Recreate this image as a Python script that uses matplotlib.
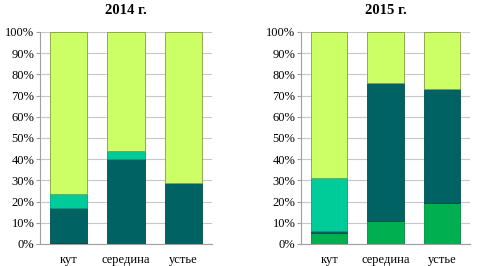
import numpy as np
import matplotlib.pyplot as plt

plt.rcParams['font.family'] = ['Liberation Serif', 'DejaVu Serif']

sites = ['кут', 'середина', 'устье']
years = ['2014 г.', '2015 г.']

# shares (%) per series, stacked bottom -> top
green_2014 = [0.5, 0, 0]
teal_2014 = [16.5, 40, 28.7]
aqua_2014 = [6.5, 4, 0.3]
lime_2014 = [76.5, 56, 71]

green_2015 = [5, 11, 19.5]
teal_2015 = [1, 65, 53.5]
aqua_2015 = [25, 0, 0]
lime_2015 = [69, 24, 27]

colors = ['#00b050', '#006262', '#00cc99', '#ccff66']
edges = ['#008a3e', '#004d4d', '#00a07a', '#8a9a40']

fig = plt.figure(figsize=(4.78, 2.66), dpi=100)
ax1 = fig.add_axes([40/478, 22/266, 172/478, 212/266])
ax2 = fig.add_axes([301/478, 22/266, 169/478, 212/266])

data = [[green_2014, teal_2014, aqua_2014, lime_2014],
        [green_2015, teal_2015, aqua_2015, lime_2015]]

for ax, series, title in zip([ax1, ax2], data, years):
    x = np.arange(len(sites))
    bottom = np.zeros(len(sites))
    for vals, c, ec in zip(series, colors, edges):
        vals = np.array(vals, dtype=float)
        ax.bar(x, vals, 0.65, bottom=bottom, color=c, edgecolor=ec,
               linewidth=0.6, zorder=3)
        bottom += vals
    ax.set_xlim(-0.5, 2.5)
    ax.set_ylim(0, 100)
    ax.set_yticks(range(0, 101, 10))
    ax.set_yticklabels([f'{v}%' for v in range(0, 101, 10)], fontsize=9)
    ax.set_xticks(x)
    ax.set_xticklabels(sites, fontsize=9)
    ax.grid(axis='y', color='#c8c8c8', linewidth=0.8, zorder=0)
    for s in ['top', 'right']:
        ax.spines[s].set_visible(False)
    ax.spines['left'].set_color('#a0a0a0')
    ax.spines['bottom'].set_color('#a0a0a0')
    ax.tick_params(axis='y', length=3, color='#a0a0a0', pad=1)
    ax.tick_params(axis='x', length=0, pad=7)
    ax.set_title(title, fontsize=10.5, fontweight='bold', pad=13)

fig.savefig('out.png', dpi=100)
